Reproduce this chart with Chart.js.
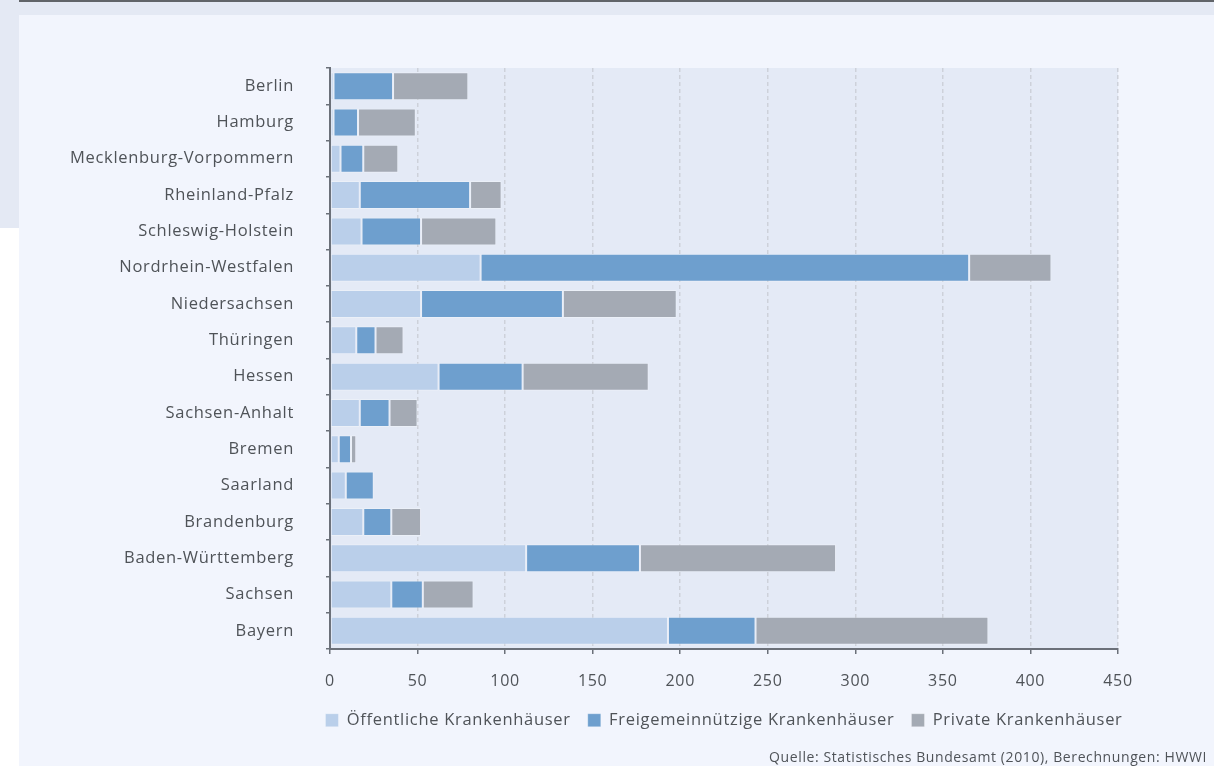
<!DOCTYPE html>
<html><head><meta charset="utf-8">
<script src="https://cdn.jsdelivr.net/npm/chart.js@4/dist/chart.umd.min.js"></script>
<style>
html,body{margin:0;padding:0;background:#fff;width:1214px;height:766px;overflow:hidden;font-family:"Open Sans",sans-serif}
#strip{position:absolute;left:0;top:0;width:19px;height:228px;background:#e4e9f4}
#topline{position:absolute;left:19px;top:0;width:1195px;height:2px;background:#616469}
#band{position:absolute;left:19px;top:2px;width:1195px;height:13px;background:#e4e9f4}
#panel{position:absolute;left:19px;top:15px;width:1195px;height:751px;background:#f2f5fd}
#c{position:absolute;left:0;top:0}
#src{position:absolute;right:7px;top:748px;font-size:14px;letter-spacing:0.6px;color:#4f5358;white-space:nowrap;line-height:18px}
</style></head>
<body>
<div id="strip"></div><div id="topline"></div><div id="band"></div><div id="panel"></div>
<canvas id="c" width="1214" height="766"></canvas>
<div id="src">Quelle: Statistisches Bundesamt (2010), Berechnungen: HWWI</div>
<script>
const categories = ["Berlin","Hamburg","Mecklenburg-Vorpommern","Rheinland-Pfalz","Schleswig-Holstein","Nordrhein-Westfalen","Niedersachsen","Thüringen","Hessen","Sachsen-Anhalt","Bremen","Saarland","Brandenburg","Baden-Württemberg","Sachsen","Bayern"];
const oeffentlich = [2,2,6,17,18,86,52,15,62,17,5,9,19,112,35,193];
const freigemeinnuetzig = [34,14,13,63,34,279,81,11,48,17,7,16,16,65,18,50];
const privat = [43,33,20,18,43,47,65,16,72,16,3,0,17,112,29,133];
const seriesNames = ["Öffentliche Krankenhäuser","Freigemeinnützige Krankenhäuser","Private Krankenhäuser"];
const xTicks = [0,50,100,150,200,250,300,350,400,450];

const FONT = "'Open Sans', sans-serif";
const TXT = '#4f5358';
const AXIS = '#6b7079';

const spacing = {
  id: 'spacing',
  beforeInit(chart) { chart.ctx.letterSpacing = '0.7px'; },
  beforeLayout(chart) { chart.ctx.letterSpacing = '0.7px'; },
  beforeDraw(chart) { chart.ctx.letterSpacing = '0.7px'; }
};

const plotBg = {
  id: 'plotBg',
  beforeDraw(chart) {
    const {ctx, chartArea: a} = chart;
    ctx.save();
    ctx.fillStyle = '#e4eaf6';
    ctx.fillRect(a.left, a.top, a.right - a.left, a.bottom - a.top);
    ctx.restore();
  }
};

const mk = (label, data, color) => ({
  label, data, backgroundColor: color,
  borderColor: 'rgba(255,255,255,0.28)', borderWidth: 1, borderSkipped: false,
  barPercentage: 0.77, categoryPercentage: 1
});

new Chart(document.getElementById('c'), {
  type: 'bar',
  data: {
    labels: categories,
    datasets: [
      mk(seriesNames[0], oeffentlich, '#bacfea'),
      mk(seriesNames[1], freigemeinnuetzig, '#6e9fce'),
      mk(seriesNames[2], privat, '#a4aab4')
    ]
  },
  options: {
    indexAxis: 'y',
    responsive: false,
    animation: false,
    devicePixelRatio: 1,
    layout: { padding: { left: 234, top: 68, right: 0, bottom: 27.5 } },
    plugins: {
      legend: {
        position: 'bottom',
        fullSize: true,
        labels: {
          boxWidth: 13, boxHeight: 13, padding: 17, color: TXT,
          font: { family: FONT, size: 16.5 }
        }
      },
      tooltip: { enabled: false }
    },
    scales: {
      x: {
        stacked: true, min: 0, max: 450,
        afterBuildTicks: s => { s.ticks = xTicks.map(v => ({ value: v })); },
        afterFit: s => { s.height = 46; },
        ticks: { color: TXT, font: { family: FONT, size: 16 }, padding: 18 },
        grid: {
          color: c => (c.tick && c.tick.value === 0) ? 'rgba(0,0,0,0)' : '#cdd1da',
          lineWidth: 1.5, tickColor: AXIS, tickLength: 5, tickWidth: 1.5, tickBorderDash: []
        },
        border: { color: AXIS, width: 2, dash: [4, 3] }
      },
      y: {
        stacked: true,
        position: 'left',
        afterFit: s => { s.width = 96; s._computeLabelArea = () => undefined; },
        ticks: { color: TXT, font: { family: FONT, size: 16.5 }, padding: 32 },
        grid: { drawOnChartArea: false, color: AXIS, tickLength: 4, lineWidth: 1.5, offset: true },
        border: { color: AXIS, width: 2 }
      },
      rightSpace: {
        type: 'linear', axis: 'y', position: 'right', display: true,
        afterFit: s => { s.width = 96; },
        ticks: { display: false },
        grid: { display: false },
        border: { display: false }
      }
    }
  },
  plugins: [spacing, plotBg]
});
</script>
</body></html>
